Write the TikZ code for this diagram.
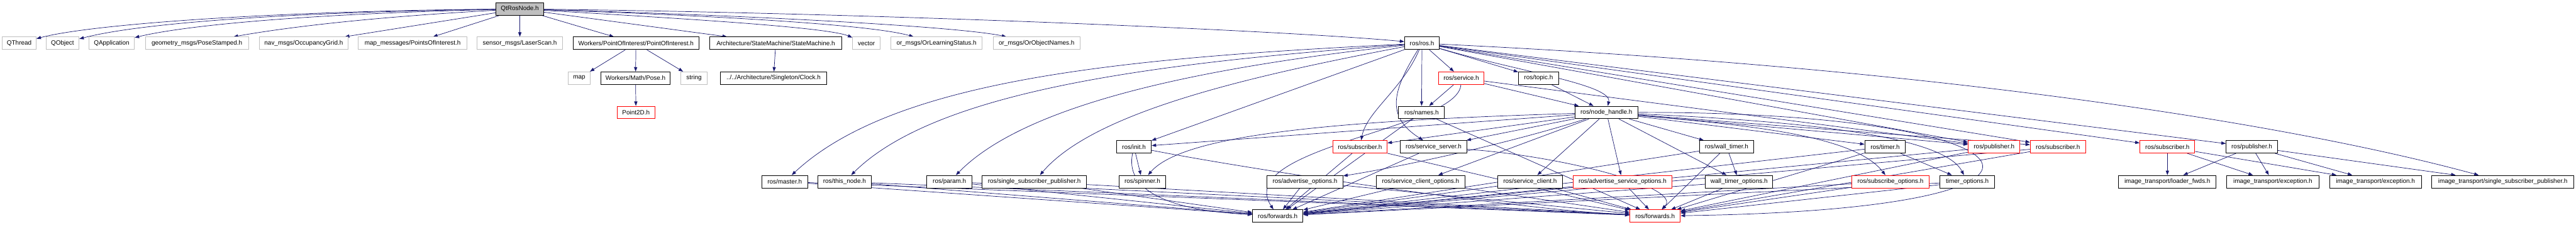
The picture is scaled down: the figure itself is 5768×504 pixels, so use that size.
\documentclass[tikz,border=0pt]{standalone}
\usepackage{fontspec}
\setmainfont{Liberation Sans}
\usetikzlibrary{arrows.meta,backgrounds}
\definecolor{edgec}{HTML}{191970}
\definecolor{grayb}{HTML}{BFBFBF}
\begin{document}
\begin{tikzpicture}[x=0.25pt,y=-0.25pt,
  nbox/.style={draw=black, line width=0.33pt, fill=white, minimum height=7pt, inner sep=0pt, font=\fontsize{3.5}{4}\selectfont},
  wd/.style={minimum width=#1*0.25pt},
  extbox/.style={nbox, draw=grayb},
  docbox/.style={nbox},
  redbox/.style={nbox, draw=red},
  rootbox/.style={nbox, fill=grayb},
  dep/.style={draw=edgec, line width=0.25pt, -{Triangle[length=2.5pt,width=1.8pt]}}
]
\useasboundingbox (0,0) rectangle (5768,504);
% row 1
\node[rootbox, wd=106] (qt) at (1164,20) {QtRosNode.h};
% row 2
\node[extbox, wd=76] (qthread) at (43,97) {QThread};
\node[extbox, wd=74] (qobject) at (140,97) {QObject};
\node[extbox, wd=102] (qapp) at (250,97) {QApplication};
\node[extbox, wd=231] (pose) at (441,97) {geometry\_msgs/PoseStamped.h};
\node[extbox, wd=199] (occ) at (680,97) {nav\_msgs/OccupancyGrid.h};
\node[extbox, wd=243] (poi) at (924,97) {map\_messages/PointsOfInterest.h};
\node[extbox, wd=191] (laser) at (1164,97) {sensor\_msgs/LaserScan.h};
\node[docbox, wd=282] (wpoi) at (1424,97) {Workers/PointOfInterest/PointOfInterest.h};
\node[docbox, wd=296] (sm) at (1737,97) {Architecture/StateMachine/StateMachine.h};
\node[extbox, wd=62] (vector) at (1940,97) {vector};
\node[extbox, wd=205] (orls) at (2097,97) {or\_msgs/OrLearningStatus.h};
\node[extbox, wd=194] (oron) at (2321,97) {or\_msgs/OrObjectNames.h};
\node[docbox, wd=78] (rosh) at (3184,97) {ros/ros.h};
% row 3
\node[extbox, wd=50] (map) at (1297,175) {map};
\node[docbox, wd=154] (wpose) at (1423,175) {Workers/Math/Pose.h};
\node[extbox, wd=58] (string) at (1554,175) {string};
\node[docbox, wd=239] (clock) at (1732,175) {../../Architecture/Singleton/Clock.h};
\node[redbox, wd=102] (service) at (3272,175) {ros/service.h};
\node[docbox, wd=90] (topic) at (3445,175) {ros/topic.h};
% row 4
\node[redbox, wd=84] (point2d) at (1424,252) {Point2D.h};
\node[docbox, wd=103] (names) at (3183,252) {ros/names.h};
\node[docbox, wd=140] (nh) at (3597,252) {ros/node\_handle.h};
% row 5
\node[docbox, wd=78] (init) at (2539,329) {ros/init.h};
\node[redbox, wd=122] (rsub1) at (3045,329) {ros/subscriber.h};
\node[docbox, wd=150] (sserver) at (3210,329) {ros/service\_server.h};
\node[docbox, wd=122] (wtimer) at (3866,329) {ros/wall\_timer.h};
\node[docbox, wd=91] (timer) at (4221,329) {ros/timer.h};
\node[redbox, wd=116] (pub1) at (4465,329) {ros/publisher.h};
\node[redbox, wd=124] (sub2) at (4608,329) {ros/subscriber.h};
\node[redbox, wd=123] (sub3) at (4853,329) {ros/subscriber.h};
\node[docbox, wd=115] (pub2) at (5042,329) {ros/publisher.h};
% row 6
\node[docbox, wd=103] (master) at (1757,407) {ros/master.h};
\node[docbox, wd=119] (thisnode) at (1891,407) {ros/this\_node.h};
\node[docbox, wd=101] (param) at (2126,407) {ros/param.h};
\node[docbox, wd=233] (rsspub) at (2316,407) {ros/single\_subscriber\_publisher.h};
\node[docbox, wd=104] (spinner) at (2558,407) {ros/spinner.h};
\node[docbox, wd=170] (advopts) at (2922,407) {ros/advertise\_options.h};
\node[docbox, wd=199] (scopts) at (3181,407) {ros/service\_client\_options.h};
\node[docbox, wd=144] (sclient) at (3426,407) {ros/service\_client.h};
\node[redbox, wd=222] (asopts) at (3633,407) {ros/advertise\_service\_options.h};
\node[docbox, wd=151] (wtopts) at (3894,407) {wall\_timer\_options.h};
\node[redbox, wd=172] (subopts) at (4233,407) {ros/subscribe\_options.h};
\node[docbox, wd=122] (topts) at (4405,407) {timer\_options.h};
\node[docbox, wd=218] (loader) at (4853,407) {image\_transport/loader\_fwds.h};
\node[docbox, wd=206] (exc1) at (5089,407) {image\_transport/exception.h};
\node[docbox, wd=206] (exc2) at (5319,407) {image\_transport/exception.h};
\node[docbox, wd=319] (itssp) at (5604,407) {image\_transport/single\_subscriber\_publisher.h};
% row 7
\node[docbox, wd=113] (fwdA) at (2861,484) {ros/forwards.h};
\node[redbox, wd=113] (fwdB) at (3706,484) {ros/forwards.h};

\begin{pgfonlayer}{background}
% QtRosNode.h
\draw[dep] (qt) .. controls (600,25) and (200,55) .. (qthread);
\draw[dep] (qt) .. controls (600,28) and (300,55) .. (qobject);
\draw[dep] (qt) .. controls (650,32) and (400,60) .. (qapp);
\draw[dep] (qt) .. controls (800,40) and (620,65) .. (pose);
\draw[dep] (qt) -- (occ);
\draw[dep] (qt) -- (poi);
\draw[dep] (qt) -- (laser);
\draw[dep] (qt) -- (wpoi);
\draw[dep] (qt) -- (sm);
\draw[dep] (qt) .. controls (1500,40) and (1850,60) .. (vector);
\draw[dep] (qt) .. controls (1600,35) and (1950,55) .. (orls);
\draw[dep] (qt) .. controls (1700,35) and (2150,60) .. (oron);
\draw[dep] (qt) .. controls (2000,30) and (2900,70) .. (rosh);
\draw[dep] (wpoi) -- (map);
\draw[dep] (wpoi) -- (wpose);
\draw[dep] (wpoi) -- (string);
\draw[dep] (wpose) -- (point2d);
\draw[dep] (sm) -- (clock);
% ros/ros.h
\draw[dep] (rosh) .. controls (2500,130) and (2000,180) .. (master);
\draw[dep] (rosh) .. controls (2600,140) and (2100,200) .. (thisnode);
\draw[dep] (rosh) .. controls (2700,150) and (2300,230) .. (param);
\draw[dep] (rosh) .. controls (2800,170) and (2450,250) .. (rsspub);
\draw[dep] (rosh) -- (init);
\draw[dep] (rosh) -- (names);
\draw[dep] (rosh) -- (service);
\draw[dep] (rosh) -- (topic);
\draw[dep] (rosh) .. controls (3400,160) and (3610,190) .. (nh);
\draw[dep] (rosh) .. controls (3140,200) and (3060,250) .. (rsub1);
\draw[dep] (rosh) .. controls (3120,200) and (3100,260) .. (sserver);
\draw[dep] (rosh) -- (pub1);
\draw[dep] (rosh) -- (sub2);
\draw[dep] (rosh) -- (sub3);
\draw[dep] (rosh) -- (pub2);
\draw[dep] (rosh) .. controls (4300,150) and (5100,270) .. (itssp);
% ros/service.h, ros/topic.h
\draw[dep] (service) -- (names);
\draw[dep] (service) -- (nh);
\draw[dep] (service) -- (pub1);
\draw[dep] (service) .. controls (3265,290) and (2760,330) .. (fwdA);
\draw[dep] (topic) -- (nh);
% ros/node_handle.h
\draw[dep] (nh) -- (init);
\draw[dep] (nh) .. controls (3000,270) and (2650,300) .. (spinner);
\draw[dep] (nh) -- (rsub1);
\draw[dep] (nh) -- (sserver);
\draw[dep] (nh) .. controls (3350,330) and (3100,380) .. (advopts);
\draw[dep] (nh) -- (scopts);
\draw[dep] (nh) -- (sclient);
\draw[dep] (nh) -- (asopts);
\draw[dep] (nh) -- (wtopts);
\draw[dep] (nh) -- (wtimer);
\draw[dep] (nh) -- (timer);
\draw[dep] (nh) .. controls (3900,280) and (4150,300) .. (subopts);
\draw[dep] (nh) .. controls (4000,270) and (4350,300) .. (topts);
\draw[dep] (nh) -- (pub1);
\draw[dep] (nh) -- (sub2);
\draw[dep] (nh) .. controls (4600,250) and (4750,470) .. (fwdB);
% ros/init.h, timers
\draw[dep] (init) -- (spinner);
\draw[dep] (init) .. controls (2520,420) and (2600,470) .. (fwdA);
\draw[dep] (init) .. controls (2800,380) and (3400,470) .. (fwdB);
\draw[dep] (wtimer) -- (wtopts);
\draw[dep] (timer) -- (topts);
\draw[dep] (sserver) .. controls (3500,350) and (3770,420) .. (fwdB);
% to ros/forwards.h
\foreach \s in {master,thisnode,param,rsspub,names,rsub1,advopts,sserver,scopts,sclient,asopts,wtimer,wtopts,timer,topts,subopts,pub1,sub2}
  \draw[dep] (\s) -- (fwdA);
\foreach \s in {master,thisnode,param,rsspub,names,rsub1,advopts,scopts,sclient,asopts,wtimer,wtopts,timer,topts,subopts,pub1,sub2}
  \draw[dep] (\s) -- (fwdB);
% image_transport
\draw[dep] (sub3) -- (loader);
\draw[dep] (sub3) -- (exc1);
\draw[dep] (sub3) -- (exc2);
\draw[dep] (pub2) -- (loader);
\draw[dep] (pub2) -- (exc1);
\draw[dep] (pub2) -- (exc2);
\draw[dep] (pub2) -- (itssp);
\end{pgfonlayer}
\end{tikzpicture}
\end{document}
